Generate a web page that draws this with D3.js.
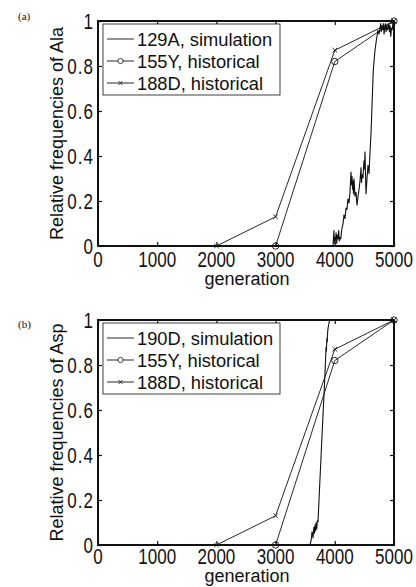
<!DOCTYPE html>
<html>
<head>
<meta charset="utf-8">
<script src="https://cdn.jsdelivr.net/npm/d3@7"></script>
<style>
  html, body { margin: 0; padding: 0; background: #fff; }
  svg { display: block; }
</style>
</head>
<body>
<svg id="chart" width="416" height="587"></svg>
<script>
// ---------- data ----------
const xTicks = [0, 1000, 2000, 3000, 4000, 5000];
const yTicks = [0, 0.2, 0.4, 0.6, 0.8, 1];
const yTickLabels = ["0", "0.2", "0.4", "0.6", "0.8", "1"];

const hist155Gen = [3000, 4000, 5000];
const hist155Val = [0, 0.82, 1];
const hist188Gen = [2000, 3000, 4000, 5000];
const hist188Val = [0, 0.13, 0.87, 1];

// 129A simulation (panel a)
const sim129Gen = [3970, 3985, 3995, 4003, 4012, 4022, 4032, 4043, 4054, 4065, 4077, 4088, 4100, 4112, 4122,
  4140, 4155, 4172, 4190, 4205, 4222, 4240, 4257, 4274, 4283, 4291, 4300, 4307, 4316, 4324, 4333, 4341,
  4358, 4375, 4392, 4409, 4426, 4443, 4451, 4459, 4476, 4493, 4502, 4510, 4518, 4527, 4544, 4561, 4578,
  4595, 4612, 4628, 4650, 4679, 4705, 4730, 4747, 4764, 4775, 4786, 4797, 4808, 4820, 4832, 4843, 4855,
  4866, 4878, 4889, 4900, 4912, 4923, 4935, 4946, 4958, 4970, 4981, 4992, 5000];
const sim129Val = [0, 0.07, 0.01, 0.04, 0.02, 0.06, 0.01, 0.05, 0.03, 0.07, 0.02, 0.04, 0.03, 0.06, 0.08,
  0.1, 0.14, 0.12, 0.17, 0.16, 0.21, 0.19, 0.24, 0.33, 0.27, 0.31, 0.25, 0.29, 0.23, 0.3, 0.26, 0.22,
  0.24, 0.18, 0.22, 0.25, 0.29, 0.35, 0.28, 0.32, 0.3, 0.38, 0.34, 0.42, 0.33, 0.23, 0.3, 0.36, 0.32,
  0.42, 0.5, 0.62, 0.78, 0.87, 0.92, 0.96, 0.94, 0.97, 0.99, 0.95, 0.98, 0.96, 0.99, 0.94, 0.97, 0.99,
  0.95, 0.98, 0.96, 0.97, 0.99, 0.95, 0.98, 0.93, 0.97, 0.96, 0.99, 0.97, 1];

// 190D simulation (panel b)
const sim190Gen = [3581, 3600, 3615, 3632, 3645, 3655, 3666, 3675, 3682, 3695, 3705, 3716, 3740, 3762, 3790,
  3820, 3845, 3852, 3858, 3865, 3872, 3880, 3890, 3905, 3919];
const sim190Val = [0, 0.02, 0.06, 0.03, 0.08, 0.05, 0.09, 0.06, 0.1, 0.07, 0.11, 0.1, 0.24, 0.36, 0.52,
  0.68, 0.83, 0.88, 0.86, 0.92, 0.9, 0.95, 0.97, 0.99, 1];

const panels = [
  { tag: "(a)", yLabel: "Relative frequencies of Ala", simName: "129A, simulation", simGen: sim129Gen, simVal: sim129Val,
    top: 21, tagY: 20, xLabBase: 21, genBase: 39 },
  { tag: "(b)", yLabel: "Relative frequencies of Asp", simName: "190D, simulation", simGen: sim190Gen, simVal: sim190Val,
    top: 320, tagY: 328, xLabBase: 19, genBase: 37 }
];

// ---------- drawing ----------
const svg = d3.select("#chart");
const FONT = "'Liberation Sans', Arial, Helvetica, sans-serif";
const INK = "#111";
const plotLeft = 98, plotW = 296, plotH = 225;
const TICKFS = 17, STRETCH = 1.25;

panels.forEach(p => {
  const g = svg.append("g").attr("transform", `translate(${plotLeft},${p.top})`);
  const x = d3.scaleLinear().domain([0, 5000]).range([0, plotW]);
  const y = d3.scaleLinear().domain([0, 1]).range([plotH, 0]);

  // panel tag
  svg.append("text").attr("x", 18).attr("y", p.tagY)
    .attr("font-family", "'Liberation Serif', 'Times New Roman', serif").attr("font-size", 11)
    .attr("fill", INK).text(p.tag);

  // axes: ticks inward on all four sides (labels drawn separately)
  const axB = d3.axisBottom(x).tickValues(xTicks).tickSizeInner(-4).tickSizeOuter(0).tickFormat("");
  const axT = d3.axisTop(x).tickValues(xTicks).tickSizeInner(-4).tickSizeOuter(0).tickFormat("");
  const axL = d3.axisLeft(y).tickValues(yTicks).tickSizeInner(-4).tickSizeOuter(0).tickFormat("");
  const axR = d3.axisRight(y).tickValues(yTicks).tickSizeInner(-4).tickSizeOuter(0).tickFormat("");
  const gB = g.append("g").attr("transform", `translate(0,${plotH})`).call(axB);
  const gT = g.append("g").call(axT);
  const gL = g.append("g").call(axL);
  const gR = g.append("g").attr("transform", `translate(${plotW},0)`).call(axR);
  [gB, gT, gL, gR].forEach(a => {
    a.select(".domain").remove();
    a.selectAll(".tick line").attr("stroke", INK).attr("stroke-width", 1.2);
  });

  // tick labels (vertically stretched like the original)
  g.append("g").selectAll("text").data(xTicks).enter().append("text")
    .attr("transform", d => `translate(${x(d)},${plotH + p.xLabBase}) scale(1,${STRETCH})`)
    .attr("text-anchor", "middle").attr("font-family", FONT).attr("font-size", TICKFS).attr("fill", INK)
    .text(d => d3.format("d")(d));
  g.append("g").selectAll("text").data(yTicks).enter().append("text")
    .attr("transform", d => `translate(-4,${y(d) + 0.36 * TICKFS * STRETCH}) scale(1,${STRETCH})`)
    .attr("text-anchor", "end").attr("font-family", FONT).attr("font-size", TICKFS).attr("fill", INK)
    .attr("letter-spacing", 1)
    .text((d, i) => yTickLabels[i]);

  // box
  g.append("rect").attr("x", 0).attr("y", 0).attr("width", plotW).attr("height", plotH)
    .attr("fill", "none").attr("stroke", INK).attr("stroke-width", 2);

  // axis labels
  g.append("text").attr("x", plotW / 2 + 1).attr("y", plotH + p.genBase).attr("text-anchor", "middle")
    .attr("font-family", FONT).attr("font-size", 18).attr("fill", INK).text("generation");
  g.append("text").attr("transform", `translate(${-35},${plotH / 2}) rotate(-90)`).attr("text-anchor", "middle")
    .attr("font-family", FONT).attr("font-size", 18).attr("fill", INK).text(p.yLabel);

  const line = d3.line().x(d => x(d[0])).y(d => y(d[1]));
  const hist155 = hist155Gen.map((v, i) => [v, hist155Val[i]]);
  const hist188 = hist188Gen.map((v, i) => [v, hist188Val[i]]);
  const sim = p.simGen.map((v, i) => [v, p.simVal[i]]);

  g.append("path").datum(hist155).attr("d", line).attr("fill", "none").attr("stroke", INK).attr("stroke-width", 0.9);
  g.append("path").datum(hist188).attr("d", line).attr("fill", "none").attr("stroke", INK).attr("stroke-width", 0.9);
  g.append("path").datum(sim).attr("d", line).attr("fill", "none").attr("stroke", INK).attr("stroke-width", 1.1);

  g.selectAll(".c155").data(hist155).enter().append("circle")
    .attr("cx", d => x(d[0])).attr("cy", d => y(d[1])).attr("r", 3.2)
    .attr("fill", "none").attr("stroke", INK).attr("stroke-width", 0.9);
  const xm = 2.2;
  g.selectAll(".x188").data(hist188).enter().append("path")
    .attr("d", d => `M${x(d[0]) - xm},${y(d[1]) - xm}L${x(d[0]) + xm},${y(d[1]) + xm}M${x(d[0]) - xm},${y(d[1]) + xm}L${x(d[0]) + xm},${y(d[1]) - xm}`)
    .attr("stroke", INK).attr("stroke-width", 0.9);

  // legend
  const lg = g.append("g").attr("transform", "translate(5,3)");
  lg.append("rect").attr("width", 177).attr("height", 71).attr("fill", "#fff").attr("stroke", INK).attr("stroke-width", 0.8);
  const items = [
    { name: p.simName, marker: "none" },
    { name: "155Y, historical", marker: "o" },
    { name: "188D, historical", marker: "x" }
  ];
  items.forEach((it, i) => {
    const ry = 15 + i * 22;
    lg.append("line").attr("x1", 4).attr("x2", 31).attr("y1", ry).attr("y2", ry).attr("stroke", INK).attr("stroke-width", 0.9);
    if (it.marker === "o") {
      lg.append("circle").attr("cx", 17.5).attr("cy", ry).attr("r", 2.6).attr("fill", "#fff").attr("stroke", INK).attr("stroke-width", 0.8);
    } else if (it.marker === "x") {
      lg.append("path").attr("d", `M15.5,${ry - 2}L19.5,${ry + 2}M15.5,${ry + 2}L19.5,${ry - 2}`).attr("stroke", INK).attr("stroke-width", 0.8);
    }
    lg.append("text").attr("x", 34).attr("y", ry).attr("dy", "0.36em")
      .attr("font-family", FONT).attr("font-size", 18.3).attr("fill", INK).text(it.name);
  });
});
</script>
</body>
</html>
